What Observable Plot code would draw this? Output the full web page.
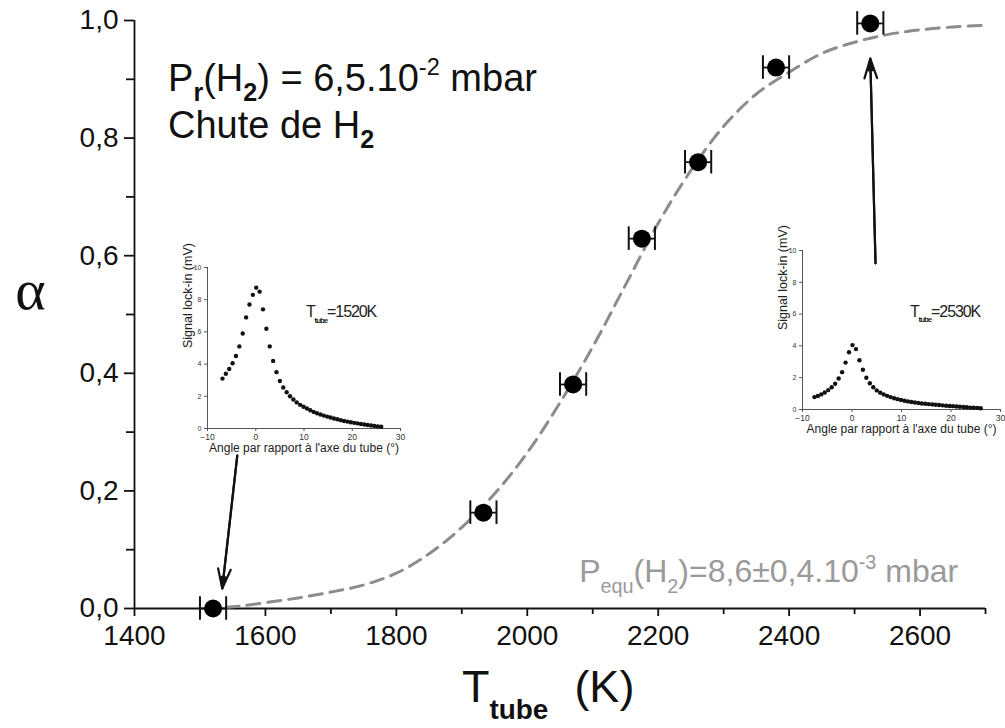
<!DOCTYPE html>
<html><head><meta charset="utf-8">
<script src="https://cdn.jsdelivr.net/npm/d3@7"></script>
<script src="https://cdn.jsdelivr.net/npm/@observablehq/plot@0.6"></script>
<style>
body{margin:0;background:#fff;overflow:hidden}
#wrap{position:relative;width:1005px;height:728px;overflow:hidden;background:#fff}
#wrap svg{position:absolute;max-width:none}
</style></head><body><div id="wrap"></div>
<script>
// ---- main data ----
const temps = [1520, 1933, 2070, 2175, 2261, 2380, 2524];
const alphas = [0.0, 0.163, 0.381, 0.629, 0.759, 0.920, 0.995];
const tempErr = [20, 20, 20, 20, 20, 20, 20];

const fitT =     [1540, 1560, 1600, 1650, 1700, 1750, 1800, 1850, 1900, 1950, 2000, 2050, 2100, 2150, 2200, 2250, 2300, 2350, 2400, 2450, 2500, 2550, 2600, 2650, 2700];
const fitAlpha = [0.002,0.004,0.010,0.018,0.028,0.040,0.060,0.093,0.138,0.195,0.265,0.350,0.445,0.550,0.655,0.745,0.820,0.875,0.912,0.944,0.963,0.976,0.984,0.989,0.992];

const xTicks = [1400, 1600, 1800, 2000, 2200, 2400, 2600];
const xMinor = [1500, 1700, 1900, 2100, 2300, 2500, 2700];
const yTicks = [0, 0.2, 0.4, 0.6, 0.8, 1.0];
const yMinor = [0.1, 0.3, 0.5, 0.7, 0.9];

// arrows (from inset to point), data units of the main chart
const arrowFromT = [1557, 2532];
const arrowFromA = [0.260, 0.587];
const arrowToT   = [1534, 2524];
const arrowToA   = [0.034, 0.935];

// ---- inset data ----
const inset1Angle = [-6.9,-6.2,-5.5,-4.8,-4.1,-3.4,-2.7,-2.0,-1.3,-0.6,0.1,0.8,1.5,2.2,2.9,3.6,4.3,5.0,5.7,6.4,7.1,7.8,8.5,9.2,9.9,10.6,11.3,12.0,12.7,13.4,14.1,14.8,15.5,16.2,16.9,17.6,18.3,19.0,19.7,20.4,21.1,21.8,22.5,23.2,23.9,24.6,25.3,26.0];
const inset1Signal = [3.1,3.4,3.7,4.05,4.5,5.1,5.9,6.9,7.7,8.3,8.75,8.5,7.4,6.2,5.1,4.2,3.5,2.95,2.55,2.25,2.0,1.8,1.62,1.47,1.35,1.24,1.13,1.03,0.95,0.87,0.80,0.74,0.68,0.62,0.57,0.52,0.47,0.43,0.39,0.35,0.32,0.28,0.25,0.22,0.19,0.16,0.13,0.11];
const inset2Angle = [-7.6,-6.9,-6.2,-5.5,-4.8,-4.1,-3.4,-2.7,-2.0,-1.3,-0.6,0.1,0.8,1.5,2.2,2.9,3.6,4.3,5.0,5.7,6.4,7.1,7.8,8.5,9.2,9.9,10.6,11.3,12.0,12.7,13.4,14.1,14.8,15.5,16.2,16.9,17.6,18.3,19.0,19.7,20.4,21.1,21.8,22.5,23.2,23.9,24.6,25.3,26.0];
const inset2Signal = [0.78,0.85,0.95,1.07,1.22,1.4,1.62,1.95,2.35,2.95,3.6,4.05,3.8,3.1,2.5,2.0,1.65,1.4,1.2,1.06,0.95,0.86,0.78,0.71,0.65,0.6,0.55,0.51,0.47,0.44,0.41,0.38,0.36,0.34,0.32,0.30,0.28,0.26,0.24,0.22,0.21,0.19,0.17,0.16,0.14,0.12,0.11,0.10,0.08];
const insetXTicks = [-10, 0, 10, 20, 30];
const insetYTicks = [0, 2, 4, 6, 8, 10];
const insetTemps = ["1520K", "2530K"];

const FONT = "'Liberation Sans', Arial, Helvetica, sans-serif";
const points = temps.map((t, i) => ({t, a: alphas[i], e: tempErr[i]}));
const fit = fitT.map((t, i) => ({t, a: fitAlpha[i]}));
const arrows = arrowFromT.map((t, i) => ({x1: t, y1: arrowFromA[i], x2: arrowToT[i], y2: arrowToA[i]}));
const comma = d => d.toFixed(1).replace(".", ",");

const main = Plot.plot({
  width: 1005, height: 728,
  marginLeft: 134, marginRight: 20, marginTop: 20, marginBottom: 120,
  x: {domain: [1400, 2700]},
  y: {domain: [0, 1]},
  style: {fontFamily: FONT, background: "transparent", overflow: "visible", color: "#111"},
  marks: [
    Plot.ruleY([0], {stroke: "#111", strokeWidth: 1.8}),
    Plot.ruleX([1400], {stroke: "#111", strokeWidth: 1.8}),
    Plot.axisX(xTicks, {tickSize: 8, tickPadding: 9, fontSize: 28, strokeWidth: 1.8, tickFormat: d => String(d), label: null}),
    Plot.axisX(xMinor, {tickSize: 6, strokeWidth: 1.8, tickFormat: () => "", label: null}),
    Plot.axisY(yTicks, {tickSize: 10, tickPadding: 6, fontSize: 28, strokeWidth: 1.8, tickFormat: comma, label: null}),
    Plot.axisY(yMinor, {tickSize: 8, strokeWidth: 1.8, tickFormat: () => "", label: null}),
    Plot.line(fit, {x: "t", y: "a", stroke: "#8c8c8c", strokeWidth: 3, strokeDasharray: "13,8", curve: "catmull-rom"}),
    Plot.ruleY(points, {y: "a", x1: d => d.t - d.e, x2: d => d.t + d.e, stroke: "#111", strokeWidth: 1.8}),
    Plot.ruleX(points, {x: d => d.t - d.e, y1: d => d.a - 0.02, y2: d => d.a + 0.02, stroke: "#111", strokeWidth: 2}),
    Plot.ruleX(points, {x: d => d.t + d.e, y1: d => d.a - 0.02, y2: d => d.a + 0.02, stroke: "#111", strokeWidth: 2}),
    Plot.dot(points, {x: "t", y: "a", r: 9, fill: "#000", stroke: "none"}),
    Plot.arrow(arrows, {x1: "x1", y1: "y1", x2: "x2", y2: "y2", stroke: "#111", strokeWidth: 2.2, headLength: 14, headAngle: 36}),
    Plot.arrow(arrows, {x1: "x1", y1: "y1", x2: "x2", y2: "y2", stroke: "#111", strokeWidth: 2.2, headLength: 8, headAngle: 20}),
    Plot.text(["α"], {frameAnchor: "left", textAnchor: "middle", dx: -104, dy: -24, fontSize: 58, fontFamily: "'Liberation Serif', 'DejaVu Serif', serif", fill: "#111"})
  ]
});
main.style.left = "0px"; main.style.top = "0px";
document.getElementById("wrap").appendChild(main);

const sx = main.scale("x"), sy = main.scale("y");

function rich(svg, x, y, parts, o) {
  const t = d3.select(svg).append("text")
    .attr("x", x).attr("y", y).attr("font-size", o.size).attr("text-anchor", "start")
    .attr("font-family", o.family || FONT).attr("fill", o.fill || "#111");
  let shift = 0;
  for (const p of parts) {
    const ts = t.append("tspan").text(p.t);
    const target = p.sub ? o.size * (p.down || 0.35) : p.sup ? -o.size * 0.42 : 0;
    if (target - shift !== 0) ts.attr("dy", target - shift);
    if (p.dx) ts.attr("dx", p.dx);
    shift = target;
    if (p.sub || p.sup) ts.attr("font-size", o.size * (p.scale || 0.62));
    if (p.bold) ts.attr("font-weight", "bold");
  }
  return t;
}

// annotations in main chart
rich(main, sx.apply(1452), sy.apply(0.88), [
  {t: "P"}, {t: "r", sub: true, bold: true, down: 0.27, scale: 0.66}, {t: "(H"}, {t: "2", sub: true, bold: true, down: 0.27, scale: 0.66}, {t: ") = 6,5.10"}, {t: "-2", sup: true}, {t: " mbar"}
], {size: 38});
rich(main, sx.apply(1452), sy.apply(0.800), [
  {t: "Chute de H"}, {t: "2", sub: true, bold: true, down: 0.27, scale: 0.66}
], {size: 38});
rich(main, sx.apply(2080), sy.apply(0.044), [
  {t: "P"}, {t: "equ", sub: true}, {t: "(H"}, {t: "2", sub: true}, {t: ")=8,6±0,4.10"}, {t: "-3", sup: true}, {t: " mbar"}
], {size: 32, fill: "#9a9a9a"});
rich(main, 462, 702, [
  {t: "T"}, {t: "tube", sub: true, bold: true, down: 0.38, scale: 0.62}, {t: "(K)", dx: 26}
], {size: 45});

// ---- insets ----
function inset(angle, signal, left, top, w, h, ml, mr, mt, mb) {
  const data = angle.map((a, i) => ({a, s: signal[i]}));
  const p = Plot.plot({
    width: w, height: h, marginLeft: ml, marginRight: mr, marginTop: mt, marginBottom: mb,
    x: {domain: [-10, 30]}, y: {domain: [0, 10]},
    style: {fontFamily: FONT, background: "transparent", overflow: "visible", color: "#333"},
    marks: [
      Plot.ruleY([0], {stroke: "#555", strokeWidth: 1}),
      Plot.ruleX([-10], {stroke: "#555", strokeWidth: 1}),
      Plot.axisX(insetXTicks, {tickSize: 3, tickPadding: 2, fontSize: 8.5, label: null, stroke: "#555"}),
      Plot.axisY(insetYTicks, {tickSize: 3, tickPadding: 3, fontSize: 7, label: null, stroke: "#555"}),
      Plot.text(["Angle par rapport à l'axe du tube (°)"], {frameAnchor: "bottom", dy: 23, fontSize: 12, fill: "#222"}),
      Plot.text(["Signal lock-in (mV)"], {frameAnchor: "left", dx: -20, rotate: -90, fontSize: 12.5, fill: "#222"}),
      Plot.dot(data, {x: "a", y: "s", r: 2.2, fill: "#111", stroke: "none"})
    ]
  });
  p.style.left = left + "px"; p.style.top = top + "px";
  document.getElementById("wrap").appendChild(p);
  return {p, ix: p.scale("x"), iy: p.scale("y")};
}
const i1 = inset(inset1Angle, inset1Signal, 160, 250, 255, 210, 47, 15, 17, 32);
rich(i1.p, i1.ix.apply(10.5), i1.iy.apply(6.9), [
  {t: "T"}, {t: "tube", sub: true, bold: true, scale: 0.5}, {t: "=" + insetTemps[0]}
], {size: 16, fill: "#222"}).attr("letter-spacing", -1.1);
const i2 = inset(inset2Angle, inset2Signal, 760, 233, 260, 210, 42, 20, 17, 34);
rich(i2.p, i2.ix.apply(11.8), i2.iy.apply(5.8), [
  {t: "T"}, {t: "tube", sub: true, bold: true, scale: 0.5}, {t: "=" + insetTemps[1]}
], {size: 16, fill: "#222"}).attr("letter-spacing", -1.1);
</script></body></html>
